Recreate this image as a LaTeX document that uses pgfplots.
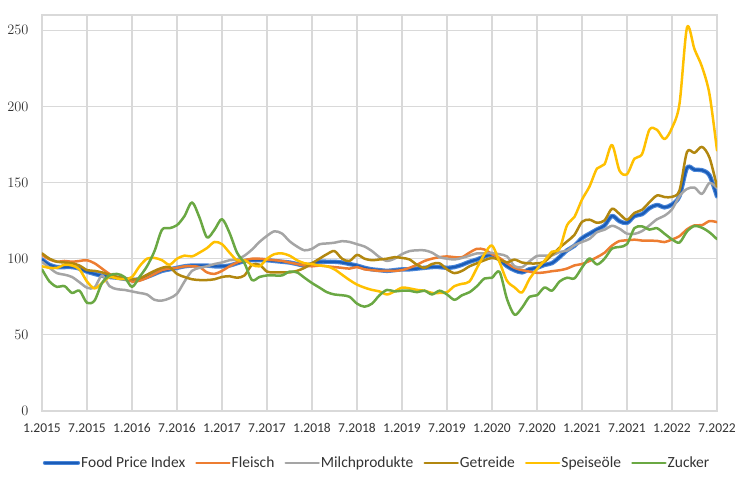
\documentclass[border=0pt]{standalone}
\usepackage{fontspec}
\setmainfont{Carlito}
\usepackage{pgfplots}
\pgfplotsset{compat=1.18}
\usepackage{pgfplotstable}

\definecolor{cFPI}{HTML}{1A5CB8}
\definecolor{cFPIl}{HTML}{4A86D8}
\definecolor{cMeat}{HTML}{ED7D31}
\definecolor{cDairy}{HTML}{A5A5A5}
\definecolor{cCer}{HTML}{B2870F}
\definecolor{cOil}{HTML}{FFC000}
\definecolor{cSug}{HTML}{6AA843}
\definecolor{cGrid}{HTML}{D9D9D9}
\definecolor{cText}{HTML}{333333}

\pgfplotstableread{
m fpi meat dairy cer oil sug
0 99.5 102.5 98 103.5 95 93
1 96 99.5 94 100 94 85
2 94.5 98 90.5 98 94 81.5
3 94.5 98.5 89.5 97.5 96 82
4 94.5 98 88 97 95.5 77.5
5 93.5 98.5 84.5 95.5 93 79
6 91.5 99 81 92.5 85 71
7 90 97 81 92 80.5 72.5
8 88.8 93.5 89 91 84 84
9 88 90 82 89.5 88 89
10 87.5 88 80 88 87 90
11 86.8 87 79.5 87 86.5 88
12 86 85 78.5 86.5 88 81.5
13 86.5 85.5 77.5 87 95 88
14 88 87.5 76.5 89.5 100 95
15 90 90 73 92 100.5 105
16 92 92.5 72.5 94 99 119
17 93 93.5 74 94.5 96 120
18 94 94 77 90 100 122
19 95 95 85 88 102 128
20 95.5 95 92 86.5 101.5 137
21 95.5 94.5 94 86 104 127
22 95.5 91 95 86 107 114
23 95 90 96.5 86.5 111 119
24 95 92 97.5 88 109.5 126
25 95.5 95 99 88.5 104 117
26 97 97.5 99.5 87.5 99 104
27 98.5 99 102 89 99 97
28 99 100 106 96 96 86
29 99 100 111 96 95 88
30 99 99.5 115 91.5 100 89
31 98.5 99 118 91 103 89
32 98 98.5 116.5 91 103.5 89
33 97.5 97.5 111.5 91 102 91.5
34 96.5 96.5 108 92 99 91
35 95.5 95.5 105.5 94 97 87.5
36 96.5 95 106.5 97 96.5 84
37 98 95.5 109.5 100 95.5 81
38 98 95 110 103 95 78
39 98 94.5 110.5 105 93 76.5
40 97.5 94 111.5 100 89.5 76
41 96.5 93.5 111 98.5 86 75
42 95.5 94.5 109.5 102.5 83 70.5
43 94 93 108 100 81 68.5
44 93 92.5 105 99 79.5 70.5
45 92.5 92 101 99.5 78.5 76
46 92 92 98.5 100 76.5 79.5
47 92.5 92 100 101 78.5 78.5
48 93 92.5 103 100.5 81 79
49 93 94 105 99.5 80.5 79
50 93.5 96 105.5 96 79.5 78
51 94 98.5 105.5 94 79 79
52 94.5 100 104 96.5 77.5 76.5
53 94.5 101 101 97 77.5 79
54 94 101.5 100 93 78 76.5
55 94.5 101 99.5 90.5 82 73
56 96 101 100.5 92 83.5 76
57 98 104 102 95 85 78
58 99.5 106.5 103.5 97 94 82
59 101.5 106 103.5 99 103 87
60 102.5 103 103.8 100.5 108.7 87.5
61 99.4 100.5 102.9 99.3 97.8 91.4
62 95.1 97 101.5 97.6 85.5 73.5
63 92.4 94 95.1 99.4 81.2 63.2
64 91.0 92.5 94.4 97.5 77.8 67.8
65 93.1 91.5 98.3 96.9 86.7 75.0
66 94.0 90.7 101.8 96.9 93.2 76.0
67 95.9 91 102.0 98.0 98.7 81.1
68 97.1 91.8 102.2 102.5 104.6 79.0
69 101.0 92.4 104.4 107.2 106.4 85.0
70 105.5 93.5 105.3 111.3 121.9 87.5
71 108.5 95.6 108.8 115.7 127.5 87.1
72 113.5 96.5 111.0 124.2 138.8 94.2
73 116.4 98.5 113.0 125.6 147.4 100.2
74 119.2 101.0 117.4 123.6 159.2 96.2
75 121.8 103.9 119.0 125.1 162.0 100.0
76 128.1 108.6 121.6 132.8 174.7 106.7
77 124.6 111.6 119.7 129.4 157.8 107.7
78 123.5 112.0 116.4 125.5 155.5 109.6
79 128.0 112.5 116.3 130.1 165.7 120.1
80 129.2 111.9 118.1 132.1 168.6 121.2
81 133.2 111.8 121.9 137.1 184.8 119.1
82 135.3 111.7 125.9 141.5 184.6 120.0
83 133.7 110.9 128.2 140.5 178.5 116.4
84 135.6 112.6 132.4 140.6 185.9 112.7
85 141.1 114.8 141.1 144.8 201.7 110.6
86 159.7 119.3 145.8 170.1 251.8 117.9
87 158.4 121.9 146.7 169.5 237.5 121.5
88 158.1 122.0 142.5 173.4 226 120.3
89 154.7 124.7 149.8 166.3 208 117.3
90 140.9 124.0 146.4 147.3 171.1 112.8
}\data

\begin{document}
\begin{tikzpicture}[x=1pt,y=1pt]
\useasboundingbox (0,0) rectangle (750,485);
\begin{axis}[
  at={(42pt,74pt)}, anchor=south west,
  scale only axis, width=675pt, height=396pt,
  xmin=0, xmax=90, ymin=0, ymax=260,
  xtick={0,6,...,90},
  xticklabels={1.2015,7.2015,1.2016,7.2016,1.2017,7.2017,1.2018,7.2018,1.2019,7.2019,1.2020,7.2020,1.2021,7.2021,1.2022,7.2022},
  ytick={0,50,...,250},
  grid=major,
  major grid style={draw=cGrid, line width=1.2pt},
  axis line style={draw=cGrid, line width=1.2pt},
  major tick length=0pt,
  tick style={draw=none},
  ticklabel style={font=\fontsize{13.5}{15}\selectfont, text=cText},
  xticklabel style={yshift=-9pt},
  yticklabel style={xshift=-10pt},
  legend columns=6,
  legend style={at={(0.4956,-0.131)}, anchor=center, draw=none, fill=none,
    inner sep=0pt, outer sep=0pt,
    font=\fontsize{15.5}{17}\selectfont, text=cText,
    nodes={inner sep=1pt},
    /tikz/every even column/.append style={column sep=9pt}},
  legend image code/.code={\draw[#1] (0pt,0pt) -- (33pt,0pt);},
  every axis plot/.append style={smooth, tension=0.5, line join=round, line cap=round},
]
\addplot[draw=cFPIl, line width=1.1pt, double=cFPI, double distance=2.2pt] table[x=m, y=fpi] {\data};
\addlegendentry{Food Price Index}
\addplot[cMeat, line width=2.5pt] table[x=m, y=meat] {\data};
\addlegendentry{Fleisch}
\addplot[cDairy, line width=2.5pt] table[x=m, y=dairy] {\data};
\addlegendentry{Milchprodukte}
\addplot[cCer, line width=2.5pt] table[x=m, y=cer] {\data};
\addlegendentry{Getreide}
\addplot[cOil, line width=2.5pt] table[x=m, y=oil] {\data};
\addlegendentry{Speiseöle}
\addplot[cSug, line width=2.5pt] table[x=m, y=sug] {\data};
\addlegendentry{Zucker}
\end{axis}
\end{tikzpicture}
\end{document}
